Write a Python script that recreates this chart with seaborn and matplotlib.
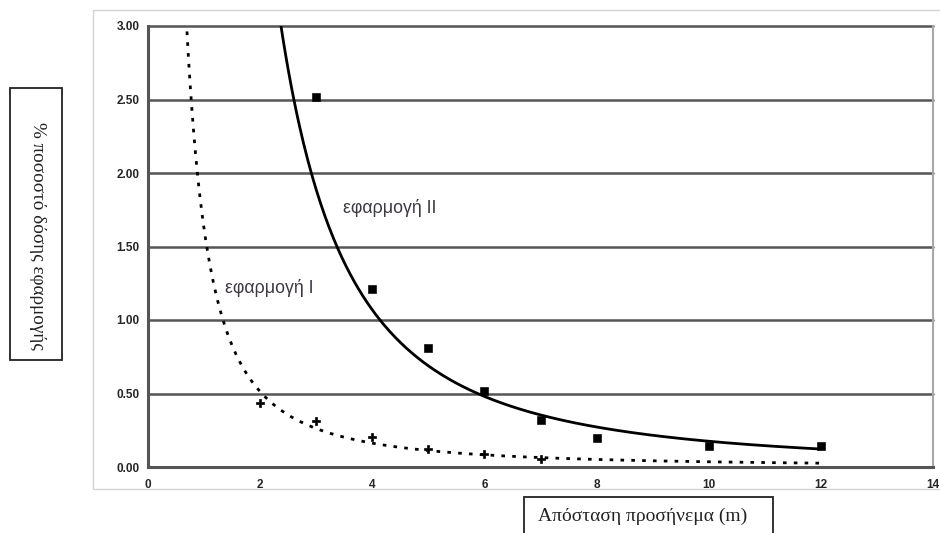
import numpy as np
import pandas as pd
import matplotlib
matplotlib.use("Agg")
import matplotlib.pyplot as plt
from matplotlib.patches import Rectangle
import seaborn as sns

# Measured dose fractions (% of applied dose) versus downwind distance
dist_I = [2, 3, 4, 5, 6, 7]
dose_I = [0.435, 0.31, 0.205, 0.12, 0.088, 0.054]

dist_II = [3, 4, 5, 6, 7, 8, 10, 12]
dose_II = [2.52, 1.21, 0.81, 0.52, 0.32, 0.20, 0.14, 0.14]

# Power-law trend lines y = a * x^b
trend_I = (1.62, -1.66)
trend_II = (16.5, -1.974)
trend_I_range = (0.5, 12)
trend_II_range = (2.0, 12)

x_ticks = [0, 2, 4, 6, 8, 10, 12, 14]
y_ticks = [0.0, 0.5, 1.0, 1.5, 2.0, 2.5, 3.0]

x_label = "Απόσταση προσήνεμα (m)"
y_label = "% ποσοστό δόσης εφαρμογής"
label_I = "εφαρμογή I"
label_II = "εφαρμογή II"

sns.set_theme(style="white")
plt.rcParams["font.family"] = ["Liberation Sans", "DejaVu Sans"]

fig = plt.figure(figsize=(9.4, 5.33), dpi=100)
fig.patch.set_facecolor("white")

# outer chart frame
fig.patches.append(Rectangle((93 / 940, 1 - 489 / 533), 1.0, (489 - 10) / 533,
                             transform=fig.transFigure, fill=False,
                             edgecolor="#d4d4d4", linewidth=1.0, zorder=0))

ax = fig.add_axes([148 / 940, 1 - 467 / 533, (933 - 148) / 940, (467 - 26) / 533])
ax.set_facecolor("white")


def trend_frame(coef, span):
    xs = np.linspace(span[0], span[1], 400)
    return pd.DataFrame({"x": xs, "y": coef[0] * xs ** coef[1]})


tI = trend_frame(trend_I, trend_I_range)
tII = trend_frame(trend_II, trend_II_range)

for yv in y_ticks[1:]:
    ax.axhline(yv, color="#555555", lw=1.8, zorder=1, clip_on=False)

sns.lineplot(data=tII, x="x", y="y", ax=ax, color="black", lw=2.0, zorder=3)
sns.lineplot(data=tI, x="x", y="y", ax=ax, color="black", lw=2.0,
             linestyle=(0, (1.3, 2.6)), zorder=3)

sI = pd.DataFrame({"x": dist_I, "y": dose_I})
sII = pd.DataFrame({"x": dist_II, "y": dose_II})
sns.scatterplot(data=sII, x="x", y="y", ax=ax, marker="s", s=30, color="black",
                edgecolor="black", zorder=4)
sns.scatterplot(data=sI, x="x", y="y", ax=ax, marker="P", s=36, color="black",
                edgecolor="black", zorder=4)

ax.set_xlim(0, 14)
ax.set_ylim(0, 3)
ax.set_xticks(x_ticks)
ax.set_yticks(y_ticks)
ax.set_xticklabels([str(v) for v in x_ticks], fontsize=8.5, fontweight="bold")
ax.set_yticklabels([f"{v:.2f}" for v in y_ticks], fontsize=8.5, fontweight="bold")
ax.tick_params(axis="both", direction="out", length=3, width=1.2, color="#555555",
               pad=6)
ax.tick_params(axis="y", pad=3)
ax.set_xlabel("")
ax.set_ylabel("")

for side in ["left", "bottom"]:
    ax.spines[side].set_color("#555555")
    ax.spines[side].set_linewidth(2.2)
ax.spines["right"].set_color("#a8a8a8")
ax.spines["right"].set_linewidth(1.5)
ax.spines["top"].set_visible(False)

ax.text(3.48, 1.76, label_II, fontsize=12.8, color="#3d3842", va="center", ha="left")
ax.text(1.37, 1.22, label_I, fontsize=12.8, color="#3d3842", va="center", ha="left")

# boxed axis titles
fig.patches.append(Rectangle((10 / 940, 1 - 360 / 533), 52 / 940, 272 / 533,
                             transform=fig.transFigure, fill=False,
                             edgecolor="#222222", linewidth=1.3))
fig.text(37 / 940, 1 - 236 / 533, y_label, rotation=-90, ha="center", va="center",
         fontsize=13.8, family=["Liberation Serif", "DejaVu Serif"], color="#222222")

fig.patches.append(Rectangle((524 / 940, -0.05), (773 - 524) / 940, 1 - 497 / 533 + 0.05,
                             transform=fig.transFigure, fill=False,
                             edgecolor="#222222", linewidth=1.3))
fig.text(643 / 940, 1 - 516 / 533, x_label, ha="center", va="center",
         fontsize=14, family=["Liberation Serif", "DejaVu Serif"], color="#222222")

fig.savefig("out.png", dpi=100)
